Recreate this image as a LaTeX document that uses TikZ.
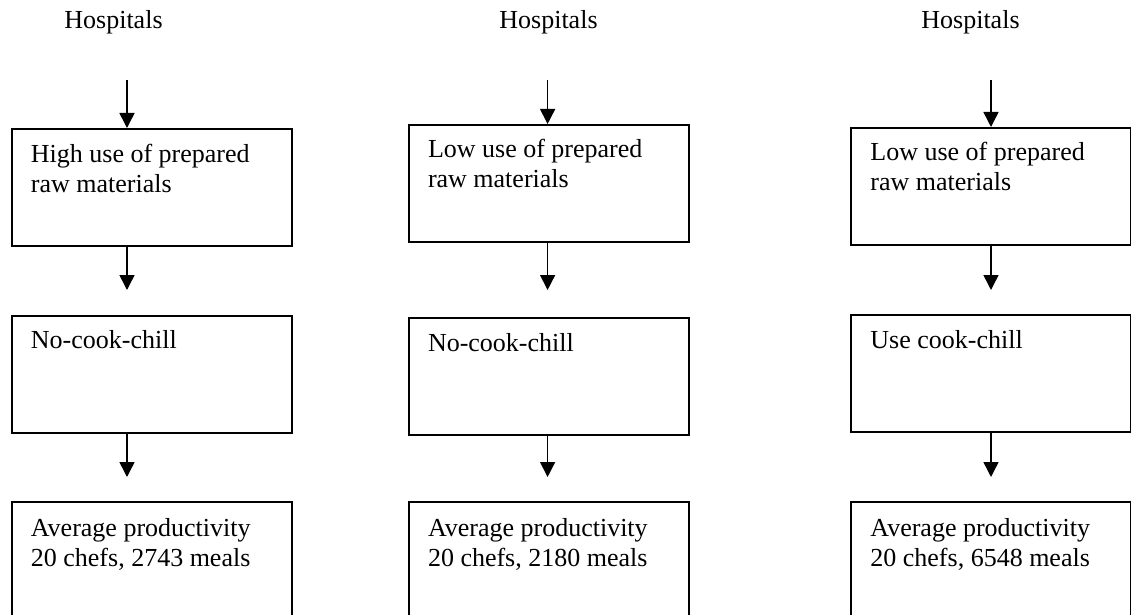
\documentclass[tikz,border=0pt]{standalone}
\usepackage{fontspec}
\setmainfont{Liberation Serif}
\usetikzlibrary{positioning,calc,arrows.meta}

\tikzset{
  stage/.style={draw, line width=1pt, anchor=north west, minimum width=140pt, minimum height=58.5pt, inner sep=0pt},
  lastbox/.style={stage, minimum height=70pt},
  stagetext/.style={anchor=base west, align=left, inner sep=0pt, font=\fontsize{13}{15}\selectfont},
  flow/.style={line width=0.75pt, -{Triangle[length=7.5pt,width=7.5pt]}},
}

\begin{document}
\begin{tikzpicture}[x=0.5pt,y=-0.5pt]
    \useasboundingbox (0,0) rectangle (1131,615);
    \clip (0,0) rectangle (1131,615);

    % Column 1: high use of prepared raw materials
    \node[stagetext, anchor=base] (hosp1) at (113.5,29) {Hospitals};
    \coordinate (in1) at (127,80);
    \node[stage] (raw1) at (10.5,128) {};
    \node[stagetext] (rawtext1) at ($(raw1.north west)+(20,64)$) {High use of prepared\\raw materials};
    \coordinate (gap1) at (127,290);
    \node[stage] (cook1) at (10.5,314.5) {};
    \node[stagetext] (cooktext1) at ($(cook1.north west)+(20,34)$) {No-cook-chill};
    \coordinate (low1) at (127,477);
    \node[lastbox] (prod1) at (10.5,501) {};
    \node[stagetext] (prodtext1) at ($(prod1.north west)+(20,65)$) {Average productivity\\20 chefs, 2743 meals};
    \draw[flow] (in1) -- (in1 |- raw1.north);
    \draw[flow] (gap1 |- raw1.south) -- (gap1);
    \draw[flow] (low1 |- cook1.south) -- (low1);

    % Column 2: low use, no cook-chill
    \node[stagetext, anchor=base] (hosp2) at (548.5,29) {Hospitals};
    \coordinate (in2) at (547.6,80);
    \node[stage] (raw2) at (407.6,124) {};
    \node[stagetext] (rawtext2) at ($(raw2.north west)+(20,64)$) {Low use of prepared\\raw materials};
    \coordinate (gap2) at (547.6,290);
    \node[stage] (cook2) at (407.6,317) {};
    \node[stagetext] (cooktext2) at ($(cook2.north west)+(20,34)$) {No-cook-chill};
    \coordinate (low2) at (547.6,477);
    \node[lastbox] (prod2) at (407.6,501) {};
    \node[stagetext] (prodtext2) at ($(prod2.north west)+(20,65)$) {Average productivity\\20 chefs, 2180 meals};
    \draw[flow] (in2) -- (in2 |- raw2.north);
    \draw[flow] (gap2 |- raw2.south) -- (gap2);
    \draw[flow] (low2 |- cook2.south) -- (low2);

    % Column 3: low use, cook-chill
    \node[stagetext, anchor=base] (hosp3) at (970.5,29) {Hospitals};
    \coordinate (in3) at (991,80);
    \node[stage] (raw3) at (850,127) {};
    \node[stagetext] (rawtext3) at ($(raw3.north west)+(20,64)$) {Low use of prepared\\raw materials};
    \coordinate (gap3) at (991,290);
    \node[stage] (cook3) at (850,314) {};
    \node[stagetext] (cooktext3) at ($(cook3.north west)+(20,34)$) {Use cook-chill};
    \coordinate (low3) at (991,477);
    \node[lastbox] (prod3) at (850,501) {};
    \node[stagetext] (prodtext3) at ($(prod3.north west)+(20,65)$) {Average productivity\\20 chefs, 6548 meals};
    \draw[flow] (in3) -- (in3 |- raw3.north);
    \draw[flow] (gap3 |- raw3.south) -- (gap3);
    \draw[flow] (low3 |- cook3.south) -- (low3);

\end{tikzpicture}
\end{document}
